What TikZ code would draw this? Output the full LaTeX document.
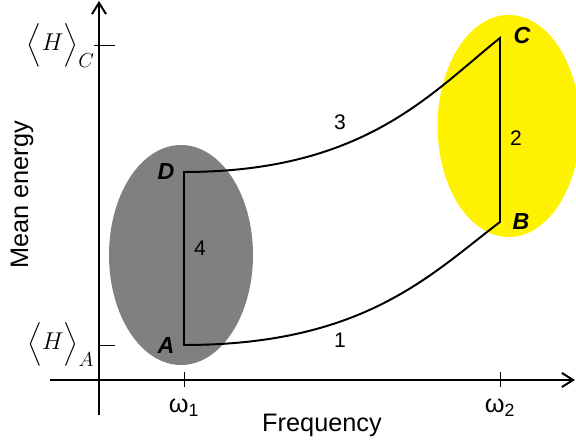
\documentclass[tikz,border=0pt]{standalone}
\usepackage{amsmath}
\usepackage{fontspec}
\setsansfont{Liberation Sans}
\usetikzlibrary{arrows.meta}
\begin{document}
\begin{tikzpicture}[
  axis/.style={line width=1.4pt, -{Straight Barb[length=8pt,width=10pt]}},
  cyc/.style={line width=1.4pt, line join=miter},
  tck/.style={line width=.6pt},
  pt/.style={font=\sffamily\bfseries\itshape\fontsize{16.5}{18}\selectfont},
  num/.style={font=\sffamily\fontsize{15}{17}\selectfont},
  lab/.style={font=\sffamily\fontsize{18}{20}\selectfont},
  hlab/.style={font=\fontsize{19}{23}\selectfont, anchor=base, inner sep=0pt}]
  \useasboundingbox (0,0) rectangle (14.4,11.175);
  \clip (0,0) rectangle (14.4,11.175);
  \coordinate (A) at (4.60,2.55); \coordinate (B) at (12.50,5.625);
  \coordinate (C) at (12.50,10.225); \coordinate (D) at (4.60,6.875);
  \coordinate (xs) at (1.25,1.675); \coordinate (xe) at (14.375,1.675);
  \coordinate (ys) at (2.475,0.80); \coordinate (ye) at (2.475,11.15);
  % the two shaded regions
  \fill[gray] (4.525,4.80) ellipse [x radius=1.80, y radius=2.75];
  \fill[yellow] (12.72,8.025) ellipse [x radius=1.78, y radius=2.775];
  % axes and ticks
  \draw[axis] (xs)--(xe);
  \draw[axis] (ys)--(ye);
  \draw[tck] (4.60,1.50)--(4.60,1.875) (12.50,1.50)--(12.50,1.875);
  \draw[tck] (2.35,10.05)--(2.875,10.05) (2.475,2.55)--(2.875,2.55);
  % the cycle
  \draw[cyc] (A) .. controls (9.10,2.55) and (10.75,4.30) .. (B)
    -- (C) .. controls (10.75,8.825) and (9.10,6.875) .. (D) -- cycle;
  \node[pt] (lA) at (4.15,2.525) {A};
  \node[pt] (lB) at (13.025,5.625) {B};
  \node[pt] (lC) at (13.05,10.275) {C};
  \node[pt] (lD) at (4.15,6.875) {D};
  \node[num] (n1) at (8.50,2.675) {1};
  \node[num] (n2) at (12.90,7.725) {2};
  \node[num] (n3) at (8.50,8.125) {3};
  \node[num] (n4) at (5.00,4.975) {4};
  \node[lab] (w1) at (4.60,0.975) {ω\textsubscript{1}};
  \node[lab] (w2) at (12.50,0.975) {ω\textsubscript{2}};
  \node[lab] (xlab) at (8.05,0.55) {Frequency};
  \node[lab, rotate=90] (ylab) at (0.55,6.30) {Mean energy};
  \node[hlab] (hA) at (1.52,2.425) {$\Bigl\langle H\Bigr\rangle_{A}$};
  \node[hlab] (hC) at (1.52,9.90) {$\Bigl\langle H\Bigr\rangle_{C}$};
\end{tikzpicture}
\end{document}
